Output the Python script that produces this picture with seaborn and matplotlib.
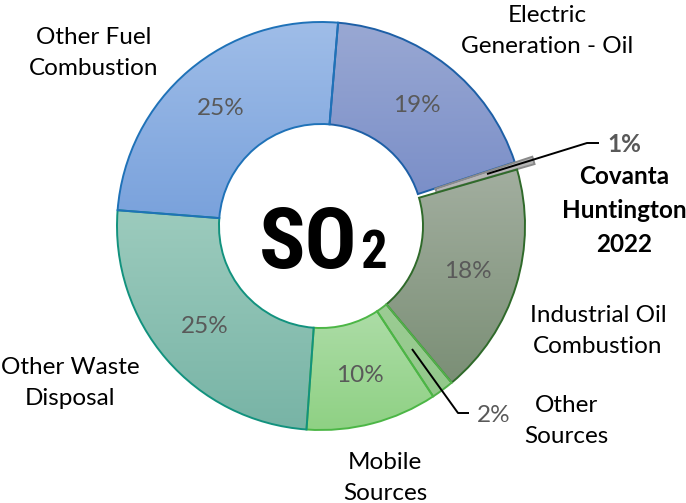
import numpy as np
import matplotlib
matplotlib.use("Agg")
import matplotlib.pyplot as plt
from matplotlib import font_manager as fm
from matplotlib.colors import to_rgb
import seaborn as sns

# ---------------- data ----------------
categories = ["Electric\nGeneration - Oil", "Covanta\nHuntington\n2022", "Industrial Oil\nCombustion",
              "Other\nSources", "Mobile\nSources", "Other Waste\nDisposal", "Other Fuel\nCombustion"]
values = [18.6, 0.6, 18.4, 1.8, 10.4, 25.1, 25.1]
pct_labels = ["19%", "1%", "18%", "2%", "10%", "25%", "25%"]

# ---------------- style ----------------
sns.set_theme(style="white")
plt.rcParams['font.family'] = ['Lato', 'DejaVu Sans']

top_cols = ["#99a8d3", "#b6b6b6", "#a2ae9f", "#9ccc94", "#acdca6", "#9ccbbd", "#9fbde8"]
bot_cols = ["#7b8fc8", "#b6b6b6", "#7b8f76", "#92c88a", "#8fd184", "#78b4a6", "#7aa2dc"]
edge_cols = ["#1d5fa6", "#8a8a8a", "#2f6a2a", "#52b04a", "#4cb646", "#12927e", "#1f72b8"]
explode = [0, 0.09, 0, 0, 0, 0, 0]

W, H = 686, 503
fig = plt.figure(figsize=(W / 100, H / 100), dpi=100)
ax = fig.add_axes([0, 0, 1, 1])

cx, cy, R = 321, 226, 204
def P(px, py):
    return ((px - cx) / R, (cy - py) / R)

wedges, _ = ax.pie(values, colors=top_cols, startangle=85.2, counterclock=False,
                   explode=explode, radius=1.0,
                   wedgeprops=dict(width=0.5, linewidth=1.4))

for w, tc, bc, ec in zip(wedges, top_cols, bot_cols, edge_cols):
    w.set_edgecolor(ec)
    ext = w.get_path().get_extents(w.get_patch_transform())
    n = 64
    t = np.linspace(0, 1, n)[:, None]
    grad = (1 - t) * np.array(to_rgb(tc)) + t * np.array(to_rgb(bc))
    img = ax.imshow(grad[:, None, :], extent=[ext.x0, ext.x1, ext.y0, ext.y1],
                    origin='upper', aspect='auto', zorder=w.get_zorder() + 0.1,
                    interpolation='bilinear')
    img.set_clip_path(w)
    w.set_facecolor('none')
    w.set_zorder(w.get_zorder() + 0.2)

ax.set_aspect('equal')
ax.set_xlim(-cx / R, (W - cx) / R)
ax.set_ylim(-(H - cy) / R, cy / R)
ax.axis('off')

FS = 17.5
LS = 1.58

# percentage labels inside ring
pct_color = "#595959"
for w, lab, v in zip(wedges, pct_labels, values):
    if v < 5:
        continue
    ang = np.deg2rad((w.theta1 + w.theta2) / 2)
    ax.text(0.755 * np.cos(ang), 0.755 * np.sin(ang), lab, ha='center', va='center',
            fontsize=FS, color=pct_color, zorder=5)

# category labels (last-line baseline positions)
lab_pos = [(547, 53), (624, 252), (598, 353), (566, 443), (385, 500), (70, 405), (94, 75)]
for i, (name, (px, py)) in enumerate(zip(categories, lab_pos)):
    bold = i == 1
    ax.text(*P(px, py), name, ha='center', va='baseline', fontsize=FS,
            color='black', fontweight='bold' if bold else 'normal',
            linespacing=LS, zorder=5)

# small-slice labels with leader lines
x1, y1 = zip(*[P(487, 174), P(587, 143), P(599, 143)])
ax.plot(x1, y1, color='black', lw=1.4, zorder=6, solid_capstyle='butt')
ax.text(*P(607, 152), pct_labels[1], ha='left', va='baseline', fontsize=FS,
        color=pct_color, fontweight='bold', zorder=5)
x2, y2 = zip(*[P(412, 349), P(458, 413), P(469, 413)])
ax.plot(x2, y2, color='black', lw=1.4, zorder=6, solid_capstyle='butt')
ax.text(*P(477, 422), pct_labels[3], ha='left', va='baseline', fontsize=FS,
        color=pct_color, zorder=5)

# center SO2 title
names = {f.name for f in fm.fontManager.ttflist}
cond = None
for cand in ["Liberation Sans Narrow", "DejaVu Sans Condensed", "Roboto Condensed"]:
    if cand in names:
        cond = cand
        break
if cond is None:
    cond_props = dict(family=['DejaVu Sans'], fontstretch='condensed', fontweight='heavy')
else:
    cond_props = dict(family=[cond], fontweight='bold')
ax.text(*P(358, 268), "SO", ha='right', va='baseline', fontsize=62, color='black',
        zorder=7, **cond_props)
ax.text(*P(360, 268), "2", ha='left', va='baseline', fontsize=38, color='black',
        zorder=7, **cond_props)

fig.savefig("out.png", dpi=100)
